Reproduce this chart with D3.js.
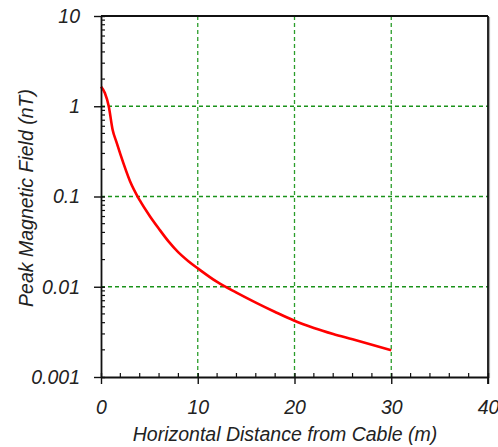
<!DOCTYPE html>
<html><head><meta charset="utf-8">
<script src="https://cdn.jsdelivr.net/npm/d3@7/dist/d3.min.js"></script>
<style>body{margin:0;background:#fff}svg{display:block}text{font-family:"Liberation Sans",Arial,sans-serif;font-style:italic;fill:#222}</style>
</head><body><svg id="c" width="498" height="447"></svg>
<script>
const distance = [0, 0.4, 0.8, 1.2, 1.6, 2, 3, 4, 5, 6, 7, 8, 9, 10, 12, 14, 16, 18, 20, 22, 24, 26, 28, 30];
const field = [1.65, 1.4, 1.0, 0.55, 0.40, 0.295, 0.148, 0.091, 0.0617, 0.0437, 0.0316, 0.024, 0.0193, 0.016, 0.0113, 0.0086, 0.00667, 0.00525, 0.0042, 0.0035, 0.003, 0.00262, 0.00228, 0.00198];
const xTicks = [0, 10, 20, 30, 40];
const yTicks = [0.001, 0.01, 0.1, 1, 10];
const yTickLabels = ["0.001", "0.01", "0.1", "1", "10"];
const xGrid = [10, 20, 30];
const yGrid = [0.01, 0.1, 1];

const svg = d3.select("#c");
const L = 101, R = 488, T = 16, B = 377;
const FS = 19.5;
const x = d3.scaleLinear().domain([0, 40]).range([L, R]);
const y = d3.scaleLog().domain([0.001, 10]).range([B, T]);

// grid
svg.append("g").selectAll("line").data(xGrid).join("line")
  .attr("x1", d => x(d)).attr("x2", d => x(d)).attr("y1", T).attr("y2", B)
  .attr("stroke", "#2a9d2a").attr("stroke-width", 1.3).attr("stroke-dasharray", "4,3");
svg.append("g").selectAll("line").data(yGrid).join("line")
  .attr("x1", L).attr("x2", R).attr("y1", d => y(d)).attr("y2", d => y(d))
  .attr("stroke", "#1a921a").attr("stroke-width", 1.3).attr("stroke-dasharray", "4,3");

// frame top/right
svg.append("line").attr("x1", L).attr("x2", R).attr("y1", T).attr("y2", T).attr("stroke", "#111").attr("stroke-width", 1.8);
svg.append("line").attr("x1", R + 1.5).attr("x2", R + 1.5).attr("y1", T + 1).attr("y2", B + 1).attr("stroke", "#aaa").attr("stroke-width", 1.2);
svg.append("line").attr("x1", R).attr("x2", R).attr("y1", T).attr("y2", B + 7).attr("stroke", "#111").attr("stroke-width", 1.8);

// curve
const line = d3.line().x((d, i) => x(distance[i])).y(d => y(d)).curve(d3.curveMonotoneX);
svg.append("path").datum(field).attr("d", line).attr("fill", "none").attr("stroke", "#ff0000").attr("stroke-width", 2.6);

// y axis
const yMinor = [];
for (let e = -3; e < 1; e++) for (let k = 2; k <= 9; k++) yMinor.push(k * Math.pow(10, e));
svg.append("g").selectAll("line").data(yMinor).join("line")
  .attr("x1", L).attr("x2", L + 4).attr("y1", d => y(d)).attr("y2", d => y(d)).attr("stroke", "#111").attr("stroke-width", 1.2);
const yAxis = svg.append("g").attr("transform", `translate(${L},0)`)
  .call(d3.axisLeft(y).tickValues(yTicks).tickFormat((d, i) => yTickLabels[i]).tickSizeInner(7).tickSizeOuter(0).tickPadding(14));
yAxis.select(".domain").attr("stroke", "#111").attr("stroke-width", 1.8);
yAxis.selectAll(".tick line").attr("stroke", "#111").attr("stroke-width", 1.4).attr("x2", -7).attr("x1", 4);
yAxis.selectAll(".tick text").attr("font-size", FS).style("font-family", '"Liberation Sans",Arial,sans-serif').style("font-style", "italic").attr("fill", "#222");

// x axis
const xMinor = d3.range(2, 40, 2).filter(d => d % 10 !== 0);
svg.append("g").selectAll("line").data(xMinor).join("line")
  .attr("x1", d => x(d)).attr("x2", d => x(d)).attr("y1", B).attr("y2", B - 4).attr("stroke", "#111").attr("stroke-width", 1.2);
const xAxis = svg.append("g").attr("transform", `translate(0,${B})`)
  .call(d3.axisBottom(x).tickValues(xTicks).tickFormat(d3.format("d")).tickSizeInner(7).tickSizeOuter(0).tickPadding(16));
xAxis.select(".domain").attr("stroke", "#111").attr("stroke-width", 1.8);
xAxis.selectAll(".tick line").attr("stroke", "#111").attr("stroke-width", 1.4).attr("y1", -4).attr("y2", 7);
xAxis.selectAll(".tick text").attr("font-size", FS).style("font-family", '"Liberation Sans",Arial,sans-serif').style("font-style", "italic").attr("fill", "#222");

// titles
svg.append("text").attr("x", 285).attr("y", 441).attr("text-anchor", "middle").attr("font-size", FS)
  .text("Horizontal Distance from Cable (m)");
svg.append("text").attr("transform", "translate(33,198) rotate(-90)").attr("text-anchor", "middle").attr("font-size", FS)
  .text("Peak Magnetic Field (nT)");
</script></body></html>
